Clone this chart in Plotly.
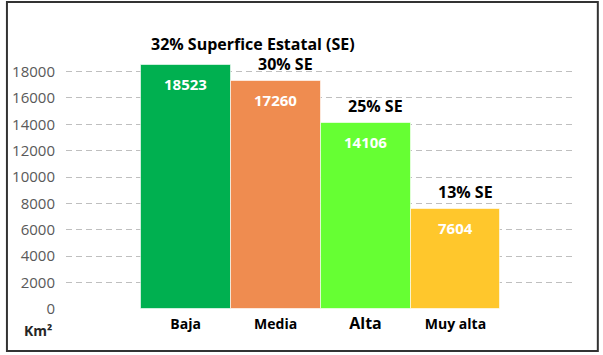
import plotly.graph_objects as go

categories = ["Baja", "Media", "Alta", "Muy alta"]
values = [18523, 17260, 14106, 7604]
pct_labels = ["32% Superfice Estatal (SE)", "30% SE", "25% SE", "13% SE"]
colors = ["#00B050", "#EF8C50", "#66FF33", "#FFC72C"]
tick_vals = [0, 2000, 4000, 6000, 8000, 10000, 12000, 14000, 16000, 18000]
tick_text = [str(v) for v in tick_vals]

FONT = "Open Sans"
x = list(range(len(categories)))

fig = go.Figure()
fig.add_trace(go.Bar(
    x=x, y=values, width=1.0,
    marker=dict(color=colors, line=dict(color="rgba(255,255,255,0.6)", width=1)),
    hoverinfo="skip",
))

ann = []
for i, (v, t) in enumerate(zip(values, pct_labels)):
    ann.append(dict(x=i, y=v, xref="x", yref="y", text=f"<b>{v}</b>", showarrow=False,
                    yanchor="top", yshift=-7, font=dict(family=FONT, size=15, color="white")))
    if i == 0:
        ann.append(dict(x=i - 0.5, y=v, xref="x", yref="y", text=f"<b>{t}</b>", showarrow=False,
                        xanchor="left", yanchor="bottom", xshift=8, yshift=8,
                        font=dict(family=FONT, size=16, color="black")))
    else:
        ann.append(dict(x=i, y=v, xref="x", yref="y", text=f"<b>{t}</b>", showarrow=False,
                        xanchor="center", yanchor="bottom", xshift=10, yshift=4,
                        font=dict(family=FONT, size=16, color="black")))
ann.append(dict(x=-0.055, y=-0.078, xref="paper", yref="paper", text="<b>Km²</b>",
                showarrow=False, xanchor="center", yanchor="middle",
                font=dict(family=FONT, size=14, color="#262626")))

ticktext = []
for c in categories:
    if c == "Alta":
        ticktext.append(f"<b><span style='font-size:16px'>{c}</span></b>")
    else:
        ticktext.append(f"<b>{c}</b>")

fig.update_layout(
    width=603, height=355,
    margin=dict(l=62, r=27, t=32, b=46),
    paper_bgcolor="white", plot_bgcolor="white",
    showlegend=False,
    bargap=0,
    xaxis=dict(range=[-1.33, 4.34], tickvals=x, ticktext=ticktext, showgrid=False,
               zeroline=False, showline=False, ticks="", ticklabelstandoff=5,
               tickfont=dict(family=FONT, size=14, color="black")),
    yaxis=dict(range=[0, 21000], tickvals=tick_vals, ticktext=tick_text, showgrid=True,
               gridcolor="#BFBFBF", griddash="6px,4px", gridwidth=1, zeroline=False,
               showline=False, ticks="", ticklabelstandoff=10,
               tickfont=dict(family=FONT, size=15, color="#595959")),
    annotations=ann,
    shapes=[dict(type="rect", xref="paper", yref="paper", x0=-0.1158, x1=1.0428,
                 y0=-0.1519, y1=1.1085, line=dict(color="#333333", width=2), layer="above")],
)
fig.update_yaxes(layer="below traces")

fig.write_html("out.html", config={"displayModeBar": False},
               post_script="document.body.style.margin='0';document.body.style.overflow='hidden';")
